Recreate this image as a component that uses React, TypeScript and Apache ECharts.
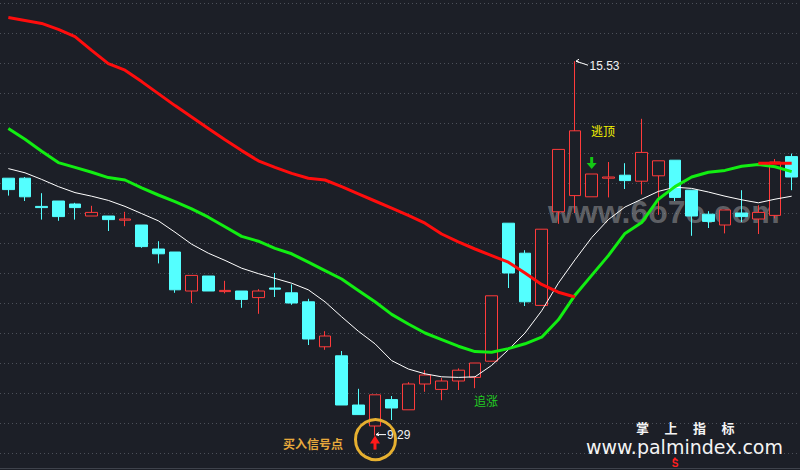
import React, { useEffect, useRef } from "react";
import * as echarts from "echarts";

const categories = [
  "K01", "K02", "K03", "K04", "K05", "K06", "K07", "K08", "K09", "K10", "K11", "K12",
  "K13", "K14", "K15", "K16", "K17", "K18", "K19", "K20", "K21", "K22", "K23", "K24",
  "K25", "K26", "K27", "K28", "K29", "K30", "K31", "K32", "K33", "K34", "K35", "K36",
  "K37", "K38", "K39", "K40", "K41", "K42", "K43", "K44", "K45", "K46", "K47", "K48",
];

const opens = [
  13.58, 13.58, 13.11, 13.2, 13.15, 12.95, 12.95, 12.88, 12.8, 12.4, 12.35, 11.7,
  11.95, 11.69, 11.7, 11.59, 11.75, 11.67, 11.52, 10.77, 10.62, 9.8, 9.45, 9.89,
  9.72, 10.15, 10.06, 10.2, 10.26, 10.53, 12.83, 12.33, 11.46, 13.02, 13.29, 13.27,
  13.58, 13.63, 13.53, 13.62, 13.88, 13.38, 12.98, 12.8, 13.0, 12.9, 12.96, 13.94,
];
const closes = [
  13.39, 13.27, 13.09, 12.94, 13.09, 13.01, 12.89, 12.9, 12.44, 12.32, 11.72, 11.96,
  11.7, 11.71, 11.56, 11.7, 11.73, 11.5, 10.9, 10.95, 9.8, 9.64, 9.97, 9.75,
  10.15, 10.3, 10.2, 10.38, 10.5, 11.62, 12.0, 11.52, 12.73, 14.06, 14.37, 13.65,
  13.6, 13.54, 14.01, 13.87, 13.26, 12.95, 12.86, 13.05, 12.94, 13.01, 13.85, 13.6,
];
const lows = [
  13.29, 13.2, 12.89, 12.87, 12.89, 12.95, 12.7, 12.78, 12.42, 12.16, 11.67, 11.5,
  11.7, 11.66, 11.42, 11.32, 11.6, 11.47, 10.8, 10.72, 9.8, 9.64, 9.29, 9.55,
  9.72, 10.02, 9.88, 10.05, 10.08, 10.53, 11.75, 11.45, 11.46, 12.82, 13.0, 13.27,
  13.26, 13.4, 13.31, 12.97, 13.2, 12.62, 12.75, 12.66, 12.85, 12.65, 12.91, 13.38,
];
const highs = [
  13.58, 13.6, 13.33, 13.2, 13.17, 13.12, 12.95, 13.02, 12.8, 12.53, 12.35, 11.96,
  11.95, 11.87, 11.7, 11.73, 12.0, 11.81, 11.57, 11.03, 10.7, 10.07, 9.97, 9.95,
  10.18, 10.38, 10.25, 10.41, 10.5, 11.62, 12.83, 12.38, 12.73, 14.06, 15.53, 13.65,
  13.85, 13.83, 14.57, 13.87, 13.88, 13.38, 13.03, 13.05, 13.38, 13.13, 13.9, 13.99,
];

const maWhite = [
  13.74, 13.67, 13.56, 13.44, 13.34, 13.28, 13.21, 13.11, 12.99, 12.87, 12.68, 12.48,
  12.33, 12.21, 12.08, 11.99, 11.91, 11.83, 11.72, 11.52, 11.27, 11.03, 10.82, 10.54,
  10.4, 10.32, 10.27, 10.26, 10.27, 10.46, 10.72, 11.0, 11.37, 11.83, 12.22, 12.59,
  12.89, 13.1, 13.23, 13.36, 13.43, 13.41, 13.35, 13.28, 13.22, 13.17, 13.23, 13.28,
];
const maGreen = [
  14.41, 14.23, 14.03, 13.84, 13.76, 13.68, 13.59, 13.55, 13.42, 13.3, 13.19, 13.07,
  12.93, 12.77, 12.61, 12.53, 12.41, 12.32, 12.18, 12.04, 11.9, 11.71, 11.52, 11.31,
  11.15, 11.0, 10.89, 10.78, 10.69, 10.68, 10.74, 10.82, 10.93, 11.22, 11.63, 11.96,
  12.29, 12.66, 12.84, 13.23, 13.44, 13.6, 13.68, 13.71, 13.78, 13.81, 13.77, 13.69,
];
const maRed = [
  16.26, 16.21, 16.16, 16.06, 15.94, 15.71, 15.49, 15.38, 15.19, 14.99, 14.79, 14.6,
  14.41, 14.22, 14.04, 13.87, 13.76, 13.66, 13.58, 13.55, 13.44, 13.32, 13.2, 13.08,
  12.96, 12.83, 12.65, 12.52, 12.4, 12.29, 12.18, 12.0, 11.81, 11.68, 11.6, null,
  null, null, null, null, null, null, null, null, null, 13.83, 13.83, 13.83,
];

const brandChars = ["掌", "上", "指", "标"];

const yMin = 9;
const yMax = 16.5;
const yStep = 0.5;

const highIndex = 34;
const lowIndex = 22;
const escapeIndex = 35;
const sellIndex = 40;

const BG = "#1c1f27";
const UP = "#ff3b3b";
const DOWN = "#54ffff";

export default function App() {
  const ref = useRef<HTMLDivElement>(null);

  useEffect(() => {
    const el = ref.current;
    if (!el) return;
    const chart = echarts.init(el, null, { renderer: "svg" });
    const ohlc = categories.map((_, i) => [opens[i], closes[i], lows[i], highs[i]]);
    chart.setOption({
      animation: false,
      backgroundColor: BG,
      grid: { left: 0, right: 0, top: 3, bottom: 17 },
      xAxis: {
        type: "category",
        data: categories,
        boundaryGap: true,
        offset: 15,
        axisLabel: { show: false },
        axisTick: { show: false },
        splitLine: { show: false },
        axisLine: { show: true, onZero: false, lineStyle: { color: "#3e424b", width: 1 } },
      },
      yAxis: {
        type: "value",
        min: yMin,
        max: yMax,
        interval: yStep,
        axisLabel: { show: false },
        axisTick: { show: false },
        axisLine: { show: false },
        splitLine: { show: true, lineStyle: { color: "#4c5059", type: [1, 3], width: 1 } },
      },
      series: [
        {
          type: "candlestick",
          data: ohlc,
          barWidth: 12,
          z: 3,
          itemStyle: {
            color: BG,
            color0: DOWN,
            borderColor: UP,
            borderColor0: DOWN,
            borderWidth: 1,
          },
          emphasis: { disabled: true },
        },
        {
          type: "line",
          data: maWhite,
          symbol: "none",
          z: 4,
          lineStyle: { color: "#ffffff", width: 1 },
          emphasis: { disabled: true },
        },
        {
          type: "line",
          data: maGreen,
          symbol: "none",
          z: 5,
          lineStyle: { color: "#12ee12", width: 3 },
          emphasis: { disabled: true },
        },
        {
          type: "line",
          data: maRed,
          symbol: "none",
          connectNulls: false,
          z: 6,
          lineStyle: { color: "#ff0d0d", width: 3 },
          emphasis: { disabled: true },
        },
      ],
    });

    const px = (i: number, v: number) =>
      chart.convertToPixel({ xAxisIndex: 0, yAxisIndex: 0 }, [i, v]) as number[];
    const [hx, hy] = px(highIndex, highs[highIndex]);
    const [lx, ly] = px(lowIndex, lows[lowIndex]);
    const [ex, ey] = px(escapeIndex, highs[escapeIndex]);
    const [sx] = px(sellIndex, lows[sellIndex]);
    const latin = "'Liberation Sans', Arial, sans-serif";
    const cjk = "'Noto Sans CJK SC', sans-serif";

    chart.setOption({
      graphic: [
        {
          type: "text",
          z: 1,
          left: 548,
          top: 196,
          style: {
            text: "www.6o7o.com",
            fill: "rgba(190,190,190,0.42)",
            font: `bold 32px ${latin}`,
          },
        },
        // high label
        {
          type: "polyline",
          z: 20,
          shape: { points: [[hx + 4, hy - 2], [hx + 1, hy], [hx + 4, hy + 1]] },
          style: { stroke: "#ffffff", lineWidth: 1, fill: null },
        },
        {
          type: "line",
          z: 20,
          shape: { x1: hx + 1, y1: hy, x2: hx + 13, y2: hy + 4 },
          style: { stroke: "#ffffff", lineWidth: 1 },
        },
        {
          type: "text",
          z: 20,
          x: hx + 14.5,
          y: hy + 5,
          style: {
            text: "15.53",
            fill: "#f2f2f2",
            font: `12px ${latin}`,
            verticalAlign: "middle",
            align: "left",
          },
        },
        // low label
        {
          type: "polyline",
          z: 20,
          shape: { points: [[lx + 4, ly - 3], [lx + 1, ly - 1], [lx + 4, ly]] },
          style: { stroke: "#ffffff", lineWidth: 1, fill: null },
        },
        {
          type: "line",
          z: 20,
          shape: { x1: lx + 1, y1: ly - 1, x2: lx + 11, y2: ly - 1 },
          style: { stroke: "#ffffff", lineWidth: 1 },
        },
        {
          type: "text",
          z: 20,
          x: lx + 12,
          y: ly - 1,
          style: {
            text: "9.29",
            fill: "#f2f2f2",
            font: `12px ${latin}`,
            verticalAlign: "middle",
            align: "left",
          },
        },
        // buy arrow
        {
          type: "polygon",
          z: 20,
          shape: { points: [[lx, ly], [lx - 5, ly + 8], [lx + 5, ly + 8]] },
          style: { fill: "#ff1a1a" },
        },
        {
          type: "rect",
          z: 20,
          shape: { x: lx - 1.5, y: ly + 7, width: 3, height: 7 },
          style: { fill: "#ff1a1a" },
        },
        {
          type: "circle",
          z: 21,
          shape: { cx: lx + 0.5, cy: ly + 4, r: 20 },
          style: { stroke: "#e6b030", lineWidth: 3, fill: null },
        },
        {
          type: "text",
          z: 20,
          x: 343,
          y: 443,
          style: {
            text: "买入信号点",
            fill: "#e8aa3c",
            font: `bold 12px ${cjk}`,
            align: "right",
            verticalAlign: "middle",
          },
        },
        {
          type: "text",
          z: 20,
          x: 486,
          y: 400.5,
          style: {
            text: "追涨",
            fill: "#22cc22",
            font: `12px ${cjk}`,
            align: "center",
            verticalAlign: "middle",
          },
        },
        {
          type: "text",
          z: 20,
          x: 603,
          y: 130,
          style: {
            text: "逃顶",
            fill: "#f4f400",
            font: `12px ${cjk}`,
            align: "center",
            verticalAlign: "middle",
          },
        },
        // escape arrow
        {
          type: "rect",
          z: 20,
          shape: { x: ex - 1.5, y: ey - 17, width: 3, height: 7 },
          style: { fill: "#14c814" },
        },
        {
          type: "polygon",
          z: 20,
          shape: { points: [[ex - 5, ey - 11], [ex + 5, ey - 11], [ex, ey - 5]] },
          style: { fill: "#14c814" },
        },
        // brand
        ...brandChars.map((ch, k) => ({
          type: "text",
          z: 20,
          x: 642.5 + k * 28.5,
          y: 427.5,
          style: {
            text: ch,
            fill: "#f4f4f4",
            font: `bold 13px ${cjk}`,
            align: "center",
            verticalAlign: "middle",
          },
        })),
        {
          type: "text",
          z: 20,
          x: 684.5,
          y: 446.5,
          style: {
            text: "www.palmindex.com",
            fill: "#f4f4f4",
            font: "19px 'DejaVu Sans', sans-serif",
            align: "center",
            verticalAlign: "middle",
          },
        },
        // sell marker
        {
          type: "polygon",
          z: 20,
          shape: { points: [[sx - 2.5, 460], [sx + 2.5, 460], [sx, 457]] },
          style: { fill: "#ff2020" },
        },
        {
          type: "text",
          z: 20,
          x: sx,
          y: 463.5,
          style: {
            text: "S",
            fill: "#ff2020",
            font: `bold 10px ${latin}`,
            align: "center",
            verticalAlign: "middle",
          },
        },
      ],
    });

    return () => chart.dispose();
  }, []);

  return (
    <div
      ref={ref}
      style={{ position: "fixed", left: 0, top: 0, width: 800, height: 470, background: BG }}
    />
  );
}
